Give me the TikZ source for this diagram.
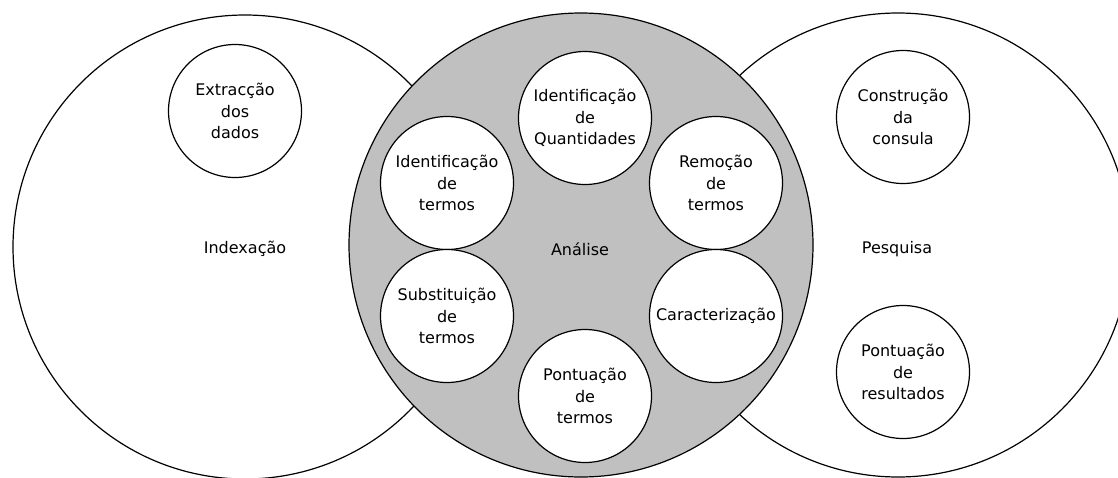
\documentclass[tikz,border=0pt]{standalone}
\usepackage{fontspec}
\setmainfont{DejaVu Sans}
\definecolor{anagray}{RGB}{192,192,192}
\begin{document}
\begin{tikzpicture}[x=1pt,y=-1pt,
  bigc/.style={circle,draw=black,line width=1.2pt,minimum size=464pt,inner sep=0pt},
  biglabel/.style={font=\fontsize{16}{21.4}\selectfont},
  smallc/.style={circle,draw=black,fill=white,line width=1.2pt,minimum size=133pt,inner sep=0pt,align=center,font=\fontsize{16}{21.4}\selectfont}]
\useasboundingbox (0,0) rectangle (1118,477);
\clip (0,0) rectangle (1118,477);
\node[bigc,fill=white] (idx) at (245,247) {};
\node[bigc,fill=white] (pes) at (898,245) {};
\node[bigc,fill=anagray] (ana) at (581,245) {};
\node[biglabel] (idxl) at (245,249) {Indexação};
\node[biglabel] (anal) at (580,249) {Análise};
\node[biglabel] (pesl) at (897,249) {Pesquisa};
\node[smallc] (ext) at (235,111) {Extracção\\dos\\dados};
\node[smallc] (idt) at (447,183) {Identificação\\de\\termos};
\node[smallc] (idq) at (585,118) {Identificação\\de\\Quantidades};
\node[smallc] (rem) at (716,183) {Remoção\\de\\termos};
\node[smallc] (sub) at (447,316) {Substituição\\de\\termos};
\node[smallc] (car) at (716,316) {Caracterização};
\node[smallc] (pnt) at (585,396) {Pontuação\\de\\termos};
\node[smallc] (con) at (903,117) {Construção\\da\\consula};
\node[smallc] (pre) at (903,372) {Pontuação\\de\\resultados};
\end{tikzpicture}
\end{document}
